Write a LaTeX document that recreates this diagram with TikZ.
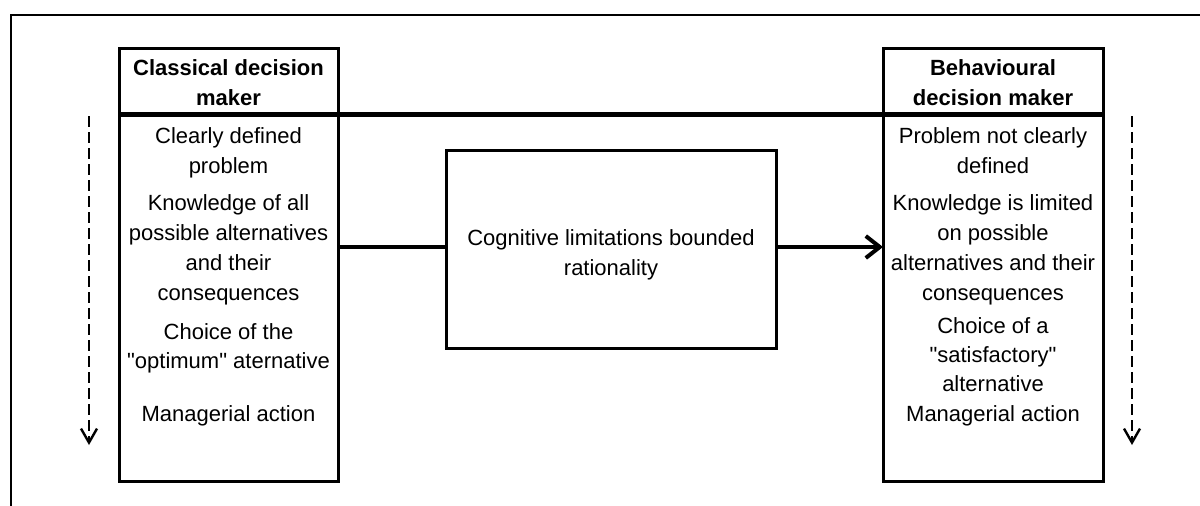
\documentclass[tikz,border=0pt]{standalone}
\usepackage{fontspec}
\setmainfont{Liberation Sans}[Ligatures=TeXOff]
\usetikzlibrary{arrows.meta}

\begin{document}
\begin{tikzpicture}[x=1pt,y=-1pt,
  txt/.style={inner sep=0pt, align=center, anchor=north,
    font=\fontsize{22}{30}\selectfont},
  tight/.style={txt, font=\fontsize{22}{29}\selectfont},
  head/.style={txt, font=\fontsize{22}{30}\selectfont\bfseries},
  panel/.style={draw, line width=3pt, inner sep=0pt, outer sep=0pt},
  divider/.style={line width=5pt},
  flow/.style={line width=4pt},
  flowtip/.style={flow, -{Straight Barb[length=14pt,width=22pt]}},
  sequence/.style={line width=2.4pt, dash pattern=on 11pt off 5pt,
    -{Straight Barb[length=14pt,width=16pt]}},
  frame/.style={line width=1.5pt}]

  \useasboundingbox (0,0) rectangle (1200,506);
  \fill[white] (0,0) rectangle (1200,506);

  % outer frame
  \draw[frame] (11,506) -- (11,15) -- (1200,15);

  % the three panels
  \node[panel, minimum width=219pt, minimum height=433pt] (lbox) at (228.5,264.5) {};
  \node[panel, minimum width=220pt, minimum height=433pt] (rbox) at (993,264.5) {};
  \node[panel, minimum width=330pt, minimum height=198pt] (mbox) at (611,249) {};

  % header divider across both panels
  \coordinate (hy) at (0,114);
  \draw[divider] (lbox.west |- hy) -- (rbox.east |- hy);

  % classical decision maker
  \node[head] (lhead) at (228.5,54) {\strut Classical decision\\\strut maker};
  \node[txt] (l1) at (228.5,122) {\strut Clearly defined\\\strut problem};
  \node[txt] (l2) at (228.5,189.7) {\strut Knowledge of all\\\strut possible alternatives\\\strut and their\\\strut consequences};
  \node[tight] (l3) at (228.5,318.7) {\strut Choice of the\\\strut "optimum" aternative};
  \node[txt] (l4) at (228.5,400) {\strut Managerial action};

  % behavioural decision maker
  \node[head] (rhead) at (993,54) {\strut Behavioural\\\strut decision maker};
  \node[txt] (r1) at (993,122) {\strut Problem not clearly\\\strut defined};
  \node[txt] (r2) at (993,189) {\strut Knowledge is limited\\\strut on possible\\\strut alternatives and their\\\strut consequences};
  \node[tight] (r3) at (993,313) {\strut Choice of a\\\strut "satisfactory"\\\strut alternative};
  \node[txt] (r4) at (993,400) {\strut Managerial action};

  % middle panel
  \node[txt] (m1) at (611,224) {\strut Cognitive limitations bounded\\\strut rationality};

  % connectors through the middle panel
  \coordinate (ay) at (0,247);
  \draw[flow] (lbox.east |- ay) -- (mbox.west |- ay);
  \draw[flowtip] (mbox.east |- ay) -- (rbox.west |- ay);

  % dashed sequence arrows beside the panels
  \coordinate (ltop) at (89,116);
  \coordinate (lbot) at (89,445);
  \coordinate (rtop) at (1132,116);
  \coordinate (rbot) at (1132,445);
  \draw[sequence] (ltop) -- (lbot);
  \draw[sequence] (rtop) -- (rbot);
\end{tikzpicture}
\end{document}
